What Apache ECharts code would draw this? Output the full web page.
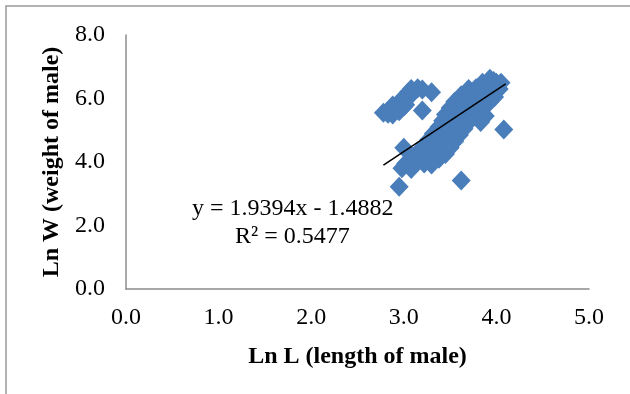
<!DOCTYPE html>
<html>
<head>
<meta charset="utf-8">
<script src="https://cdn.jsdelivr.net/npm/echarts@6/dist/echarts.min.js"></script>
<style>
  html, body { margin: 0; padding: 0; background: #fff; }
  #chart { width: 630px; height: 394px; }
</style>
</head>
<body>
<div id="chart"></div>
<script>
// Ln L / Ln W pairs
const lnL = [
  // upper-left group
  2.78, 2.85, 2.9, 2.95, 3.0, 3.02, 3.05, 3.08, 3.15, 3.2, 3.3, 3.0, 2.93, 3.2,
  2.88, 2.97, 3.05, 3.1, 2.83, 2.88, 2.95, 3.02,
  // main band
  3.93, 3.97, 3.85, 3.92, 4.0, 4.05,
  3.7, 3.78, 3.88, 3.95, 4.03,
  3.62, 3.7, 3.8, 3.9, 3.98,
  3.55, 3.62, 3.72, 3.85, 3.93,
  3.5, 3.58, 3.68, 3.8,
  3.45, 3.55, 3.65, 3.75, 3.88, 3.83,
  3.42, 3.5, 3.6, 3.7,
  3.38, 3.48, 3.58, 3.65,
  3.32, 3.42, 3.52, 3.6,
  3.27, 3.35, 3.45, 3.55,
  3.22, 3.3, 3.4, 3.5,
  3.15, 3.25, 3.35, 3.45,
  3.08, 3.18, 3.28, 3.38,
  3.02, 3.12, 3.22, 3.3,
  2.98, 3.08,
  // outliers
  2.95, 3.62, 4.08, 3.0
];
const lnW = [
  5.55, 5.62, 5.72, 5.8, 5.92, 6.05, 6.2, 6.3, 6.32, 6.28, 6.2, 5.75, 5.65, 5.62,
  5.78, 5.95, 6.05, 6.18, 5.52, 5.5, 5.6, 5.8,
  6.62, 6.55, 6.5, 6.45, 6.5, 6.5,
  6.3, 6.32, 6.3, 6.28, 6.3,
  6.1, 6.1, 6.12, 6.1, 6.05,
  5.9, 5.92, 5.9, 5.88, 5.9,
  5.7, 5.72, 5.7, 5.65,
  5.5, 5.5, 5.5, 5.5, 5.45, 5.26,
  5.3, 5.3, 5.3, 5.25,
  5.1, 5.1, 5.1, 5.05,
  4.9, 4.9, 4.9, 4.85,
  4.7, 4.7, 4.7, 4.65,
  4.5, 4.5, 4.5, 4.45,
  4.3, 4.3, 4.3, 4.25,
  4.1, 4.1, 4.1, 4.1,
  3.95, 3.95, 3.95, 3.92,
  3.8, 3.78,
  3.22, 3.42, 5.02, 4.45
];
// trend line ends (y = 1.9394x - 1.4882)
const trendL = [2.78, 4.1];
const trendW = [3.9031, 6.4633];

const xTicks = [0, 1, 2, 3, 4, 5];
const yTicks = [0, 2, 4, 6, 8];

const eqLine1 = 'y = 1.9394x - 1.4882';
const eqLine2 = 'R\u00b2 = 0.5477';

const chart = echarts.init(document.getElementById('chart'), null, { renderer: 'canvas' });

const serif = '"Liberation Serif", "Times New Roman", serif';
const axisGray = '#8c8c8c';

chart.setOption({
  animation: false,
  backgroundColor: '#fff',
  grid: { left: 126, right: 41, top: 35, bottom: 105, containLabel: false },
  xAxis: {
    type: 'value', min: 0, max: 5, interval: 1,
    name: 'Ln L (length of male)',
    nameLocation: 'middle', nameGap: 56,
    nameTextStyle: { fontFamily: serif, fontWeight: 'bold', fontSize: 24, color: '#000' },
    axisLine: { show: true, lineStyle: { color: axisGray, width: 1.5 } },
    axisTick: { show: false },
    splitLine: { show: false },
    axisLabel: {
      fontFamily: serif, fontSize: 24, color: '#000', margin: 17,
      formatter: v => xTicks.includes(v) ? v.toFixed(1) : ''
    }
  },
  yAxis: {
    type: 'value', min: 0, max: 8, interval: 2,
    name: 'Ln W (weight of male)',
    nameLocation: 'middle', nameGap: 61, nameRotate: 90,
    nameTextStyle: { fontFamily: serif, fontWeight: 'bold', fontSize: 24, color: '#000' },
    axisLine: { show: true, lineStyle: { color: axisGray, width: 1.5 } },
    axisTick: { show: false },
    splitLine: { show: false },
    axisLabel: {
      fontFamily: serif, fontSize: 24, color: '#000', margin: 21,
      formatter: v => yTicks.includes(v) ? v.toFixed(1) : ''
    }
  },
  graphic: [
    {
      type: 'rect', silent: true, z: -1,
      shape: { x: 6, y: 6, width: 800, height: 600 },
      style: { fill: 'none', stroke: '#9a9a9a', lineWidth: 1.5 }
    },
    {
      type: 'text', left: 192, top: 197, z: 10,
      style: { text: eqLine1, font: '24px ' + serif, fill: '#000' }
    },
    {
      type: 'text', left: 235, top: 225, z: 10,
      style: { text: eqLine2, font: '24px ' + serif, fill: '#000' }
    }
  ],
  series: [
    {
      type: 'scatter',
      symbol: 'diamond',
      symbolSize: [19, 20],
      itemStyle: { color: '#4a7ebb', opacity: 1 },
      data: lnL.map((v, i) => [v, lnW[i]])
    },
    {
      type: 'line',
      symbol: 'none',
      z: 5,
      lineStyle: { color: '#000', width: 1.5 },
      data: trendL.map((v, i) => [v, trendW[i]])
    }
  ]
});
</script>
</body>
</html>
